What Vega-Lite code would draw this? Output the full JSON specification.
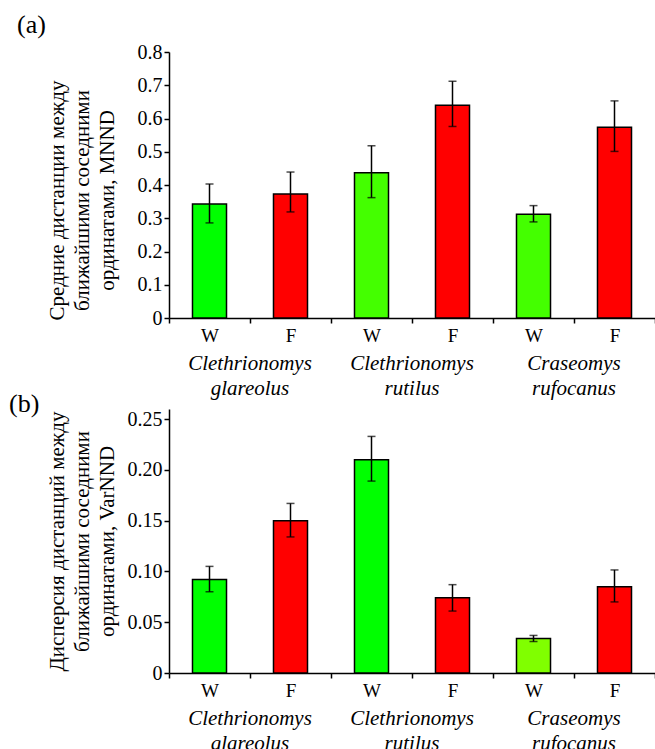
{
  "$schema": "https://vega.github.io/schema/vega-lite/v6.json",
  "background": "white",
  "padding": {"left": 9, "top": 12, "right": 0, "bottom": 0},
  "spacing": -7,
  "config": {
    "font": "Liberation Serif",
    "view": {"stroke": null},
    "axis": {
      "grid": false, "domainColor": "black", "domainWidth": 1.5,
      "tickColor": "black", "tickWidth": 1.5, "tickSize": 5,
      "labelColor": "black", "labelFontSize": 20, "labelFont": "Liberation Serif",
      "titleColor": "black", "titleFontSize": 21, "titleFontWeight": "normal", "titleFont": "Liberation Serif"
    },
    "axisX": {"labelFontSize": 19},
    "title": {"font": "Liberation Serif", "fontSize": 26, "fontWeight": "normal", "anchor": "start", "frame": "group", "color": "black"}
  },
  "datasets": {
    "a": [
      {"id": "1W", "species": "Clethrionomys glareolus", "mean": 0.343, "lo": 0.286, "hi": 0.403},
      {"id": "1F", "species": "Clethrionomys glareolus", "mean": 0.373, "lo": 0.319, "hi": 0.439},
      {"id": "2W", "species": "Clethrionomys rutilus", "mean": 0.437, "lo": 0.362, "hi": 0.518},
      {"id": "2F", "species": "Clethrionomys rutilus", "mean": 0.640, "lo": 0.576, "hi": 0.712},
      {"id": "3W", "species": "Craseomys rufocanus", "mean": 0.312, "lo": 0.289, "hi": 0.338},
      {"id": "3F", "species": "Craseomys rufocanus", "mean": 0.574, "lo": 0.501, "hi": 0.653}
    ],
    "b": [
      {"id": "1W", "species": "Clethrionomys glareolus", "mean": 0.092, "lo": 0.080, "hi": 0.105},
      {"id": "1F", "species": "Clethrionomys glareolus", "mean": 0.150, "lo": 0.134, "hi": 0.167},
      {"id": "2W", "species": "Clethrionomys rutilus", "mean": 0.210, "lo": 0.189, "hi": 0.233},
      {"id": "2F", "species": "Clethrionomys rutilus", "mean": 0.074, "lo": 0.061, "hi": 0.087},
      {"id": "3W", "species": "Craseomys rufocanus", "mean": 0.034, "lo": 0.031, "hi": 0.037},
      {"id": "3F", "species": "Craseomys rufocanus", "mean": 0.085, "lo": 0.070, "hi": 0.1015}
    ]
  },
  "vconcat": [
    {
      "title": {"text": "(a)", "dx": -152, "offset": 4},
      "width": 486, "height": 266,
      "data": {"name": "a"},
      "layer": [
        {
          "layer": [
            {
              "mark": {"type": "bar", "stroke": "black", "strokeWidth": 1.5, "width": {"band": 0.42}},
              "encoding": {
                "x": {"field": "id", "type": "nominal", "sort": null, "scale": {"padding": 0}, "title": null,
                      "axis": {"labelAngle": 0, "labelExpr": "substring(datum.label,1,2)", "tickBand": "extent", "labelPadding": 3}},
                "y": {"field": "mean", "type": "quantitative", "scale": {"domain": [0, 0.8]},
                      "title": ["Средние дистанции между", "ближайшими соседними", "ординатами, MNND"],
                      "axis": {"values": [0, 0.1, 0.2, 0.3, 0.4, 0.5, 0.6, 0.7, 0.8],
                               "labelExpr": "datum.value == 0 ? '0' : format(datum.value, '.1f')",
                               "titleX": -102, "titleY": 148, "titleLineHeight": 25}},
                "color": {"field": "id", "type": "nominal",
                          "scale": {"domain": ["1W", "1F", "2W", "2F", "3W", "3F"], "range": ["#00FF00", "#FF0000", "#44FF00", "#FF0000", "#44FF00", "#FF0000"]},
                          "legend": null}
              }
            },
            {
              "mark": {"type": "rule", "color": "black", "strokeWidth": 1.5},
              "encoding": {
                "x": {"field": "id", "type": "nominal", "sort": null, "title": null,
                      "axis": {"labelAngle": 0, "labelExpr": "substring(datum.label,1,2)", "tickBand": "extent", "labelPadding": 3}},
                "y": {"field": "lo", "type": "quantitative",
                      "title": ["Средние дистанции между", "ближайшими соседними", "ординатами, MNND"],
                      "axis": {"values": [0, 0.1, 0.2, 0.3, 0.4, 0.5, 0.6, 0.7, 0.8],
                               "labelExpr": "datum.value == 0 ? '0' : format(datum.value, '.1f')",
                               "titleX": -102, "titleY": 148, "titleLineHeight": 25}},
                "y2": {"field": "hi"}
              }
            },
            {
              "mark": {"type": "tick", "color": "black", "thickness": 1.5, "size": 8, "orient": "horizontal"},
              "encoding": {
                "x": {"field": "id", "type": "nominal", "sort": null, "title": null,
                      "axis": {"labelAngle": 0, "labelExpr": "substring(datum.label,1,2)", "tickBand": "extent", "labelPadding": 3}},
                "y": {"field": "lo", "type": "quantitative",
                      "title": ["Средние дистанции между", "ближайшими соседними", "ординатами, MNND"],
                      "axis": {"values": [0, 0.1, 0.2, 0.3, 0.4, 0.5, 0.6, 0.7, 0.8],
                               "labelExpr": "datum.value == 0 ? '0' : format(datum.value, '.1f')",
                               "titleX": -102, "titleY": 148, "titleLineHeight": 25}}
              }
            },
            {
              "mark": {"type": "tick", "color": "black", "thickness": 1.5, "size": 8, "orient": "horizontal"},
              "encoding": {
                "x": {"field": "id", "type": "nominal", "sort": null, "title": null,
                      "axis": {"labelAngle": 0, "labelExpr": "substring(datum.label,1,2)", "tickBand": "extent", "labelPadding": 3}},
                "y": {"field": "hi", "type": "quantitative",
                      "title": ["Средние дистанции между", "ближайшими соседними", "ординатами, MNND"],
                      "axis": {"values": [0, 0.1, 0.2, 0.3, 0.4, 0.5, 0.6, 0.7, 0.8],
                               "labelExpr": "datum.value == 0 ? '0' : format(datum.value, '.1f')",
                               "titleX": -102, "titleY": 148, "titleLineHeight": 25}}
              }
            }
          ]
        },
        {
          "mark": {"type": "rule", "opacity": 0},
          "encoding": {
            "x": {"field": "species", "type": "nominal", "sort": null, "scale": {"padding": 0}, "title": null,
                  "axis": {"orient": "bottom", "domain": false, "ticks": false, "labelAngle": 0, "offset": 32, "labelPadding": 2,
                           "labelFontStyle": "italic", "labelFontSize": 21, "labelExpr": "split(datum.label, ' ')", "labelLineHeight": 25}}
          }
        }
      ],
      "resolve": {"scale": {"x": "independent", "color": "independent"}}
    },
    {
      "title": {"text": "(b)", "dx": -160, "offset": -8},
      "width": 486, "height": 264,
      "data": {"name": "b"},
      "layer": [
        {
          "layer": [
            {
              "mark": {"type": "bar", "stroke": "black", "strokeWidth": 1.5, "width": {"band": 0.42}},
              "encoding": {
                "x": {"field": "id", "type": "nominal", "sort": null, "scale": {"padding": 0}, "title": null,
                      "axis": {"labelAngle": 0, "labelExpr": "substring(datum.label,1,2)", "tickBand": "extent", "labelPadding": 3}},
                "y": {"field": "mean", "type": "quantitative", "scale": {"domain": [0, 0.25]},
                      "title": ["Дисперсия дистанций между", "ближайшими соседними", "ординатами, VarNND"],
                      "axis": {"values": [0, 0.05, 0.1, 0.15, 0.2, 0.25],
                               "labelExpr": "datum.value == 0 ? '0' : format(datum.value, '.2f')",
                               "titleX": -102, "titleLineHeight": 25}},
                "color": {"field": "id", "type": "nominal",
                          "scale": {"domain": ["1W", "1F", "2W", "2F", "3W", "3F"], "range": ["#00FF00", "#FF0000", "#00FF00", "#FF0000", "#80FF00", "#FF0000"]},
                          "legend": null}
              }
            },
            {
              "mark": {"type": "rule", "color": "black", "strokeWidth": 1.5},
              "encoding": {
                "x": {"field": "id", "type": "nominal", "sort": null, "title": null,
                      "axis": {"labelAngle": 0, "labelExpr": "substring(datum.label,1,2)", "tickBand": "extent", "labelPadding": 3}},
                "y": {"field": "lo", "type": "quantitative",
                      "title": ["Дисперсия дистанций между", "ближайшими соседними", "ординатами, VarNND"],
                      "axis": {"values": [0, 0.05, 0.1, 0.15, 0.2, 0.25],
                               "labelExpr": "datum.value == 0 ? '0' : format(datum.value, '.2f')",
                               "titleX": -102, "titleLineHeight": 25}},
                "y2": {"field": "hi"}
              }
            },
            {
              "mark": {"type": "tick", "color": "black", "thickness": 1.5, "size": 8, "orient": "horizontal"},
              "encoding": {
                "x": {"field": "id", "type": "nominal", "sort": null, "title": null,
                      "axis": {"labelAngle": 0, "labelExpr": "substring(datum.label,1,2)", "tickBand": "extent", "labelPadding": 3}},
                "y": {"field": "lo", "type": "quantitative",
                      "title": ["Дисперсия дистанций между", "ближайшими соседними", "ординатами, VarNND"],
                      "axis": {"values": [0, 0.05, 0.1, 0.15, 0.2, 0.25],
                               "labelExpr": "datum.value == 0 ? '0' : format(datum.value, '.2f')",
                               "titleX": -102, "titleLineHeight": 25}}
              }
            },
            {
              "mark": {"type": "tick", "color": "black", "thickness": 1.5, "size": 8, "orient": "horizontal"},
              "encoding": {
                "x": {"field": "id", "type": "nominal", "sort": null, "title": null,
                      "axis": {"labelAngle": 0, "labelExpr": "substring(datum.label,1,2)", "tickBand": "extent", "labelPadding": 3}},
                "y": {"field": "hi", "type": "quantitative",
                      "title": ["Дисперсия дистанций между", "ближайшими соседними", "ординатами, VarNND"],
                      "axis": {"values": [0, 0.05, 0.1, 0.15, 0.2, 0.25],
                               "labelExpr": "datum.value == 0 ? '0' : format(datum.value, '.2f')",
                               "titleX": -102, "titleLineHeight": 25}}
              }
            }
          ]
        },
        {
          "mark": {"type": "rule", "opacity": 0},
          "encoding": {
            "x": {"field": "species", "type": "nominal", "sort": null, "scale": {"padding": 0}, "title": null,
                  "axis": {"orient": "bottom", "domain": false, "ticks": false, "labelAngle": 0, "offset": 32, "labelPadding": 2,
                           "labelFontStyle": "italic", "labelFontSize": 21, "labelExpr": "split(datum.label, ' ')", "labelLineHeight": 25}}
          }
        }
      ],
      "resolve": {"scale": {"x": "independent", "color": "independent"}}
    }
  ],
  "resolve": {"scale": {"color": "independent"}}
}
